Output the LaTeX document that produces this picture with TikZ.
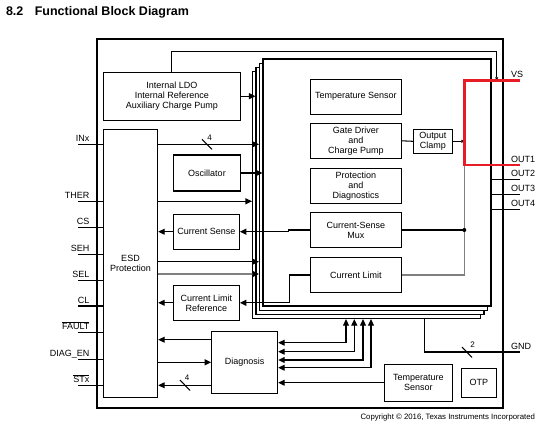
\documentclass[tikz,border=0pt]{standalone}
\usepackage{fontspec}
\setmainfont{Liberation Sans}
\usetikzlibrary{arrows.meta}
\definecolor{pinred}{RGB}{232,28,36}
\tikzset{blk/.style={draw, fill=white, inner sep=1pt, align=center, font=\fontsize{9}{10}\selectfont}}
\tikzset{chbox/.style={draw, fill=white, minimum width=228pt, minimum height=247pt, inner sep=0pt}}
\tikzset{pinlbl/.style={inner sep=0pt, font=\fontsize{9}{10}\selectfont}}
\tikzset{buslbl/.style={inner sep=0pt, font=\fontsize{8}{8}\selectfont}}
\tikzset{arr/.style={-{Triangle[length=6.5pt,width=6pt]}}}
\tikzset{smallarr/.style={-{Triangle[length=3pt,width=3pt]}}}
\tikzset{dualarr/.style={{Triangle[length=6.5pt,width=6pt]}-{Triangle[length=6.5pt,width=6pt]}}}

\begin{document}
\begin{tikzpicture}[x=1pt, y=-1pt, line width=1.05pt]
  \path[use as bounding box, fill=white] (0,0) rectangle (544,426);

  % title
  \node[anchor=base west, inner sep=0pt, font=\bfseries\fontsize{12.5}{14}\selectfont] (secnum) at (5.5,15) {8.2};
  \node[anchor=base west, inner sep=0pt, font=\bfseries\fontsize{12.5}{14}\selectfont] (title) at (34.3,15) {Functional Block Diagram};

  % device outline
  \draw (97,39) rectangle (503,408);

  % four channels, stacked
  \foreach \i in {1,...,4}
    \node[chbox] (ch\i) at ({366.5+3.5*(\i-1)}, {195.1-4.2*(\i-1)}) {};

  % blocks
  \node[blk, minimum width=137pt, minimum height=47.7pt] (ldo) at (171.8,96.2) {Internal LDO\\Internal Reference\\Auxiliary Charge Pump};
  \node[blk, minimum width=54.4pt, minimum height=267.7pt] (esd) at (130.5,263.2) {ESD\\Protection};
  \node[blk, minimum width=67.4pt, minimum height=36pt] (osc) at (207,173) {Oscillator};
  \node[blk, minimum width=66pt, minimum height=34.7pt] (csense) at (206.3,231.7) {Current Sense};
  \node[blk, minimum width=66pt, minimum height=35pt] (clref) at (206.3,302.8) {Current Limit\\Reference};
  \node[blk, minimum width=66pt, minimum height=62pt] (diag) at (244.7,362.3) {Diagnosis};
  \node[blk, minimum width=91pt, minimum height=34.7pt] (tsens) at (355.8,96.7) {Temperature Sensor};
  \node[blk, minimum width=91pt, minimum height=35pt] (gate) at (355.8,140.8) {Gate Driver\\and\\Charge Pump};
  \node[blk, minimum width=91pt, minimum height=35pt] (prot) at (355.8,185.8) {Protection\\and\\Diagnostics};
  \node[blk, minimum width=91pt, minimum height=34.6pt] (mux) at (355.8,230) {Current-Sense\\Mux};
  \node[blk, minimum width=91pt, minimum height=34.6pt] (climit) at (355.8,275) {Current Limit};
  \node[blk, minimum width=39pt, minimum height=24pt, font=\fontsize{9}{9.3}\selectfont] (clamp) at (432.8,141.3) {Output\\Clamp};
  \node[blk, minimum width=68pt, minimum height=36.7pt] (tsens2) at (418.3,382.7) {Temperature\\Sensor};
  \node[blk, minimum width=35pt, minimum height=29pt] (otp) at (478.8,382.8) {OTP};

  % left pins
  \foreach \nm/\yy/\txt in {INx/144.3/INx, THER/201.3/THER, CS/227.3/CS, SEH/254.3/SEH, SEL/280.3/SEL, CL/306/CL, FAULT/332.3/{$\overline{\hbox{FAULT}}$}, DIAG/359.3/DIAG\_EN, STx/385.3/{$\overline{\hbox{STx}}$}}{
    \coordinate (p\nm) at (78,\yy);
    \node[pinlbl, anchor=base east] (l\nm) at (90,{\yy-2.6}) {\txt};
    \draw (p\nm) -- (p\nm -| esd.west);
  }

  % supply from VS
  \coordinate (vstap) at (496.7,80.3);
  \draw[smallarr] (ldo.north) -- ++(0,-20.6) -| (vstap);
  \draw[arr] (ldo.east) -- (ldo.east -| ch2.west);

  % ESD <-> channels
  \coordinate (seh) at (0,261.7);
  \coordinate (sel) at (0,274);
  \coordinate (dgA) at (0,339.7);
  \draw[arr] (esd.east |- pINx) -- (ch3.west |- pINx);
  \draw (202,139.3) -- (212,149.3);
  \node[buslbl] (busA) at (209.5,137.5) {4};
  \draw[arr] (osc.east) -- (osc.east -| ch4.west);
  \draw[arr] (esd.east |- pTHER) -- (ch1.west |- pTHER);
  \draw[arr] (csense.west) -- (csense.west -| esd.east);
  \draw[arr] (esd.east |- seh) -- (ch3.west |- seh);
  \draw[gray, -{Triangle[length=6.5pt,width=6pt,color=black]}] (esd.east |- sel) -- (ch3.west |- sel);
  \draw[arr] (clref.west) -- (clref.west -| esd.east);
  \draw[arr] (mux.west) -- ++(-21,0) |- (csense.east);
  \draw[arr] (climit.west) -- ++(-20.5,0) |- (clref.east);

  % diagnosis
  \draw[arr] (diag.west |- dgA) -- (esd.east |- dgA);
  \draw[arr] (esd.east |- diag.west) -- (diag.west);
  \draw[arr] (diag.west |- pSTx) -- (esd.east |- pSTx);
  \draw (180,380) -- (190,390.5);
  \node[buslbl] (busB) at (187,378) {4};
  \foreach \i/\xx/\yy in {1/346/342.7, 2/354.3/351.7, 3/363/360, 4/371/367.7}{
    \coordinate (dg\i) at (\xx,\yy);
    \draw[dualarr] (dg\i -| diag.east) -| (dg\i |- ch1.south);
  }
  \draw[arr] (tsens2.west) -- (tsens2.west -| diag.east);

  % outputs
  \draw (gate.east) -- (clamp.west);
  \coordinate (vs) at (520,80.3);
  \coordinate (vsj) at (464.3,80.3);
  \coordinate (out1) at (520,165);
  \coordinate (out1j) at (464.3,165);
  \coordinate (sdot) at (464.3,230);
  \draw[gray] (out1j) -- (sdot) -- (sdot |- climit.east) -- (climit.east);
  \draw (mux.east) -- (sdot);
  \fill (sdot) circle[radius=2pt];
  \draw[smallarr] (clamp.east) -- (clamp.east -| vsj);
  \foreach \k/\yy in {2/179.3, 3/194.3, 4/209.3}{
    \coordinate (out\k) at (520,\yy);
    \draw (out\k -| ch4.east) -- (out\k);
    \node[pinlbl, anchor=base west] (lout\k) at (510.5,{\yy-2.6}) {OUT\k};
  }
  \draw[pinred, line width=2.8pt] (vs) -- (vsj) -- (out1j) -- (out1);
  \node[pinlbl, anchor=base west] (lvs) at (510.5,77.6) {VS};
  \node[pinlbl, anchor=base west] (lout1) at (510.5,162.4) {OUT1};

  % ground
  \coordinate (gnd) at (520,352);
  \coordinate (gndtap) at (424.7,352);
  \draw (gndtap |- ch1.south) |- (gnd);
  \draw (462,347) -- (472,357.5);
  \node[buslbl] (busC) at (472.5,345) {2};
  \node[pinlbl, anchor=base west] (lgnd) at (510.5,349.4) {GND};

  \node[anchor=base east, inner sep=0pt, font=\fontsize{7.8}{9}\selectfont] (copy) at (535.5,419.5) {Copyright © 2016, Texas Instruments Incorporated};
\end{tikzpicture}
\end{document}
